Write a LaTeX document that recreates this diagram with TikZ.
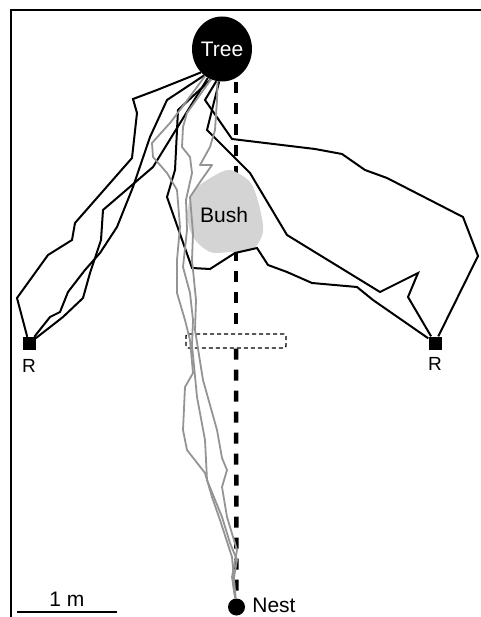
\documentclass[tikz,border=0pt]{standalone}
\usepackage{fontspec}
\setmainfont{Liberation Sans}
\usetikzlibrary{shapes.geometric}
\tikzset{fieldlabel/.style={font=\fontsize{21}{25}\selectfont, inner sep=0pt}}
\tikzset{treenode/.style={ellipse, fill=black, text=white, minimum width=54pt, minimum height=65pt, inner sep=0pt, font=\fontsize{21}{25}\selectfont}}
\tikzset{nestnode/.style={circle, fill=black, minimum size=17pt, inner sep=0pt}}
\tikzset{releasenode/.style={rectangle, fill=black, minimum size=13pt, inner sep=0pt}}
\tikzset{gatenode/.style={rectangle, draw, line width=1.4pt, dash pattern=on 4pt off 3pt, rounded corners=2pt, minimum width=100pt, minimum height=14pt, inner sep=0pt}}
\tikzset{blacktrack/.style={line width=2pt, black}}
\tikzset{graytrack/.style={line width=1.8pt, black!42, line join=round}}

\begin{document}
\begin{tikzpicture}[x=1pt, y=-1pt]

\useasboundingbox (0,0) rectangle (480,617);

% frame
\draw [line width=2.2pt] (11,620) -- (11,10) -- (485,10);

% nodes
\node [style = treenode] (tree) at (222,49) {Tree};
\node [style = gatenode] (gate) at (236,341) {};
\node [style = nestnode, label={[fieldlabel, label distance=7pt, yshift=2pt]right:Nest}] (nest) at (236.5,607) {};
\node [style = releasenode, label={[fieldlabel, font=\fontsize{19}{23}\selectfont, label distance=9pt]below:R}] (rL) at (29,343.5) {};
\node [style = releasenode, label={[fieldlabel, font=\fontsize{19}{23}\selectfont, label distance=8pt]below:R}] (rR) at (435,343) {};

% straight line tree - nest
\draw [line width=4.5pt, dash pattern=on 11pt off 10pt] (tree.south -| gate) -- (gate.north);
\draw [line width=4.5pt, dash pattern=on 11pt off 10pt] (gate.south) -- (nest);

% bush
\fill [black!17] plot [smooth cycle] coordinates {(230,170) (250,182) (259,205) (263,232) (252,250) (230,252) (210,252) (193,237) (187,213) (195,190) (212,177)};
\node [style = fieldlabel] (bush) at (224,215) {Bush};

% tracks to the release points
\draw [blacktrack] (tree.228) -- (157,90) -- (133,99) -- (137,113) -- (132,158) -- (75,223) -- (72,240) -- (48,255) -- (17,298) -- (rL);
\draw [blacktrack] (tree.236) -- (167,100) -- (150,137) -- (133,187) -- (117,227) -- (100,253) -- (85,270) -- (68,292) -- (60,312) -- (50,317) -- (rL);
\draw [blacktrack] (tree.244) -- (153,167) -- (103,210) -- (101,240) -- (90,273) -- (83,298) -- (63,317) -- (rL);
\draw [blacktrack] (tree.250) -- (178,110) -- (175,170) -- (167,197) -- (192,268) -- (210,269) -- (235,253) -- (257,248) -- (268,265) -- (287,272) -- (312,283) -- (357,287) -- (373,300) -- (rR);
\draw [blacktrack] (tree.260) -- (205,100) -- (232,139) -- (315,149) -- (342,154) -- (365,170) -- (387,178) -- (463,217) -- (478,256) -- (rR);
\draw [blacktrack] (tree.265) -- (207,130) -- (250,173) -- (287,235) -- (380,292) -- (418,273) -- (408,297) -- (rR);

% tracks back to the nest
\draw [graytrack] (tree.238) -- (180,110) -- (170,123) -- (152,143) -- (153,157) -- (167,173) -- (177,190) -- (180,227) -- (177,260) -- (177,293) -- (185,320) -- (190,340) -- (193,373) -- (185,387) -- (183,430) -- (187,450) -- (205,473) -- (212,497) -- (220,520) -- (232,557) -- (235,590) -- (nest);
\draw [graytrack] (tree.250) -- (187,113) -- (183,127) -- (182,147) -- (190,157) -- (192,173) -- (186,200) -- (187,230) -- (183,267) -- (190,293) -- (193,320) -- (192,345) -- (197,397) -- (205,440) -- (207,480) -- (222,517) -- (230,543) -- (237,560) -- (233,583) -- (nest);
\draw [graytrack] (tree.262) -- (217,100) -- (215,130) -- (210,147) -- (200,165) -- (212,165) -- (200,182) -- (190,197) -- (193,233) -- (192,260) -- (196,300) -- (195,330) -- (203,380) -- (217,430) -- (222,458) -- (227,470) -- (222,487) -- (227,517) -- (237,550) -- (232,577) -- (nest);

% scale bar
\coordinate (barL) at (17,612);
\coordinate (barR) at (117,612);
\draw [line width=1.8pt] (barL) -- node [style = fieldlabel, above=5pt] (barlabel) {1 m} (barR);

\end{tikzpicture}
\end{document}
